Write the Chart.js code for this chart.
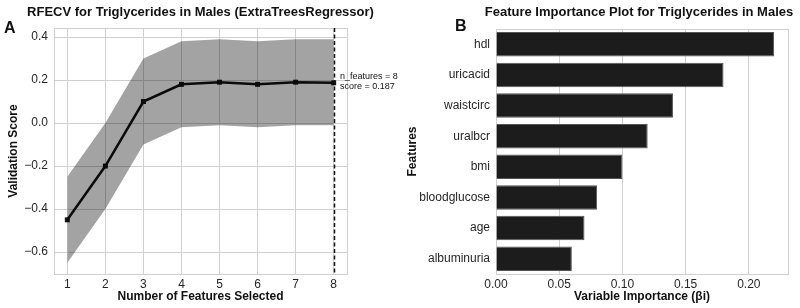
<!DOCTYPE html>
<html>
<head>
<meta charset="utf-8">
<script src="https://cdn.jsdelivr.net/npm/chart.js@4.4.1/dist/chart.umd.min.js"></script>
<style>
  html, body { margin: 0; padding: 0; background: #fff; }
  .panel { position: absolute; top: 0; width: 400px; height: 308px; }
  #left { left: 0; }
  #right { left: 400px; }
</style>
</head>
<body>
<div class="panel" id="left"><canvas id="rfecv-chart"></canvas></div>
<div class="panel" id="right"><canvas id="importance-chart"></canvas></div>
<script>
// Panel A: RFECV scores
const nFeatures = [1, 2, 3, 4, 5, 6, 7, 8];
const meanScore = [-0.45, -0.20, 0.10, 0.18, 0.19, 0.18, 0.19, 0.187];
const upperScore = [-0.25, 0.00, 0.30, 0.38, 0.39, 0.38, 0.39, 0.39];
const lowerScore = [-0.65, -0.40, -0.10, -0.02, -0.01, -0.02, -0.01, -0.01];
const scoreTicks = [-0.6, -0.4, -0.2, 0.0, 0.2, 0.4];
const bestN = 8;
const bestScore = 0.187;

// Panel B: feature importance
const features = ['hdl', 'uricacid', 'waistcirc', 'uralbcr', 'bmi', 'bloodglucose', 'age', 'albuminuria'];
const importance = [0.22, 0.18, 0.14, 0.12, 0.10, 0.08, 0.07, 0.06];
const importanceTicks = [0.00, 0.05, 0.10, 0.15, 0.20];

const FONT = '"Liberation Sans", Arial, Helvetica, sans-serif';
const TEXT = '#262626';
const GRID = '#d0d0d0';

Chart.defaults.font.family = FONT;
Chart.defaults.color = TEXT;

/**
 * Draws the frame, titles, panel letters and notes.
 */
const panelText = {
  id: 'panelText',
  beforeDatasetsDraw(chart) {
    const { ctx, chartArea: a } = chart;
    ctx.save();
    ctx.strokeStyle = GRID;
    ctx.lineWidth = 1;
    ctx.strokeRect(Math.round(a.left) + 0.5, Math.round(a.top) + 0.5,
      Math.round(a.right - a.left), Math.round(a.bottom - a.top));
    ctx.restore();
  },
  afterDatasetsDraw(chart, args, opts) {
    if (opts.vline == null) return;
    const { ctx, chartArea: a, scales } = chart;
    const x = Math.round(scales.x.getPixelForValue(opts.vline)) + 0.5;
    ctx.save();
    ctx.strokeStyle = '#111';
    ctx.lineWidth = 1.5;
    ctx.setLineDash([4, 2.5]);
    ctx.beginPath();
    ctx.moveTo(x, a.top);
    ctx.lineTo(x, a.bottom);
    ctx.stroke();
    ctx.restore();
  },
  afterDraw(chart, args, opts) {
    const { ctx, chartArea: a } = chart;
    ctx.save();
    ctx.fillStyle = '#111';
    ctx.textBaseline = 'middle';
    ctx.textAlign = 'center';
    ctx.font = 'bold 13px ' + FONT;
    ctx.fillText(opts.title, (a.left + a.right) / 2 + (opts.titleShift || 0), 12);
    ctx.textAlign = 'left';
    ctx.font = 'bold 16px ' + FONT;
    ctx.fillText(opts.letter, opts.letterX, opts.letterY);
    if (opts.note) {
      ctx.font = '9px ' + FONT;
      ctx.fillStyle = '#111';
      opts.note.forEach((line, i) => ctx.fillText(line, opts.noteX, opts.noteY + i * 9.5));
    }
    ctx.restore();
  },
};

function initCharts() {
  // RFECV chart
  const rfecvCtx = document.getElementById('rfecv-chart').getContext('2d');
  new Chart(rfecvCtx, {
    type: 'line',
    data: {
      datasets: [
        {
          data: nFeatures.map((n, i) => ({ x: n, y: lowerScore[i] })),
          borderWidth: 0,
          pointRadius: 0,
          fill: false,
        },
        {
          data: nFeatures.map((n, i) => ({ x: n, y: upperScore[i] })),
          borderWidth: 0,
          pointRadius: 0,
          backgroundColor: 'rgba(0, 0, 0, 0.36)',
          fill: '-1',
        },
        {
          data: nFeatures.map((n, i) => ({ x: n, y: meanScore[i] })),
          borderColor: '#111',
          borderWidth: 2.5,
          pointStyle: 'rect',
          pointRadius: 3.5,
          pointBackgroundColor: '#111',
          pointBorderColor: '#111',
          pointBorderWidth: 0,
          fill: false,
        },
      ],
    },
    options: {
      animation: false,
      responsive: true,
      maintainAspectRatio: false,
      layout: { padding: { left: 0, right: 53, top: 28, bottom: 0 } },
      elements: { line: { tension: 0 } },
      plugins: {
        legend: { display: false },
        tooltip: { enabled: false },
        panelText: {
          title: 'RFECV for Triglycerides in Males (ExtraTreesRegressor)',
          letter: 'A',
          letterX: 4,
          letterY: 29,
          vline: bestN,
          note: ['n_features = ' + bestN, 'score = ' + bestScore],
          noteX: 340,
          noteY: 77,
        },
      },
      scales: {
        x: {
          type: 'linear',
          min: 0.65,
          max: 8.35,
          afterBuildTicks: (s) => { s.ticks = nFeatures.map((v) => ({ value: v })); },
          afterFit: (s) => { s.height = 34; },
          grid: { color: GRID, drawTicks: false },
          border: { display: false },
          ticks: { font: { size: 12 }, padding: 3, maxRotation: 0, callback: (v) => String(v) },
          title: {
            display: true,
            text: 'Number of Features Selected',
            font: { size: 12, weight: 'bold' },
            color: '#111',
            padding: { top: 0, bottom: 4 },
          },
        },
        y: {
          min: -0.702,
          max: 0.442,
          afterBuildTicks: (s) => { s.ticks = scoreTicks.map((v) => ({ value: v })); },
          afterFit: (s) => { s.width = 54; },
          grid: { color: GRID, drawTicks: false },
          border: { display: false },
          ticks: {
            font: { size: 12 },
            padding: 6,
            callback: (v) => (v < 0 ? '\u2212' : '') + Math.abs(v).toFixed(1),
          },
          title: {
            display: true,
            text: 'Validation Score',
            font: { size: 12, weight: 'bold' },
            color: '#111',
            padding: { top: 6, bottom: 0 },
          },
        },
      },
    },
    plugins: [panelText],
  });

  // Feature importance chart
  const impCtx = document.getElementById('importance-chart').getContext('2d');
  new Chart(impCtx, {
    type: 'bar',
    data: {
      labels: features,
      datasets: [
        {
          data: importance,
          backgroundColor: '#1c1c1c',
          borderColor: '#555',
          borderWidth: 1,
          barPercentage: 0.8,
          categoryPercentage: 1.0,
        },
      ],
    },
    options: {
      indexAxis: 'y',
      animation: false,
      responsive: true,
      maintainAspectRatio: false,
      layout: { padding: { left: 0, right: 12, top: 29, bottom: 0 } },
      plugins: {
        legend: { display: false },
        tooltip: { enabled: false },
        panelText: {
          title: 'Feature Importance Plot for Triglycerides in Males',
          titleShift: -3,
          letter: 'B',
          letterX: 55,
          letterY: 27,
        },
      },
      scales: {
        x: {
          min: 0,
          max: 0.231,
          afterBuildTicks: (s) => { s.ticks = importanceTicks.map((v) => ({ value: v })); },
          afterFit: (s) => { s.height = 34; },
          grid: { color: GRID, drawTicks: false },
          border: { display: false },
          ticks: { font: { size: 12 }, padding: 3, maxRotation: 0, callback: (v) => v.toFixed(2) },
          title: {
            display: true,
            text: 'Variable Importance (\u03b2i)',
            font: { size: 12, weight: 'bold' },
            color: '#111',
            padding: { top: 0, bottom: 4 },
          },
        },
        y: {
          afterFit: (s) => { s.width = 96; },
          grid: { display: false, drawTicks: false },
          border: { display: false },
          ticks: { font: { size: 12 }, padding: 6 },
          title: {
            display: true,
            text: 'Features',
            font: { size: 12, weight: 'bold' },
            color: '#111',
            padding: { top: 5, bottom: 0 },
          },
        },
      },
    },
    plugins: [panelText],
  });
}

document.addEventListener('DOMContentLoaded', initCharts);
</script>
</body>
</html>
